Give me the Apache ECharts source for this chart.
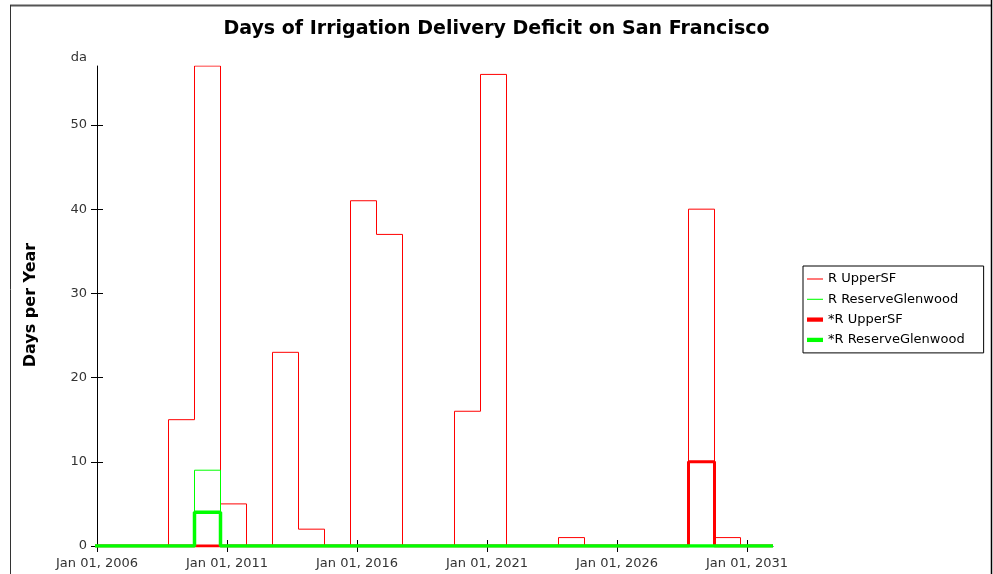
<!DOCTYPE html>
<html>
<head>
<meta charset="utf-8">
<script src="https://cdn.jsdelivr.net/npm/echarts@6/dist/echarts.min.js"></script>
<style>
  html, body { margin: 0; padding: 0; background: #fff; }
  #main { width: 993px; height: 574px; }
</style>
</head>
<body>
<div id="main"></div>
<script>
// water years (Oct 1 of previous year -> Sep 30)
var waterYears = [2006, 2007, 2008, 2009, 2010, 2011, 2012, 2013, 2014, 2015, 2016, 2017, 2018,
  2019, 2020, 2021, 2022, 2023, 2024, 2025, 2026, 2027, 2028, 2029, 2030, 2031];
var upperSF = [0, 0, 0, 15, 57, 5, 0, 23, 2, 0, 41, 37, 0, 0, 16, 56, 0, 0, 1, 0, 0, 0, 0, 40, 1, 0];
var reserveGlenwood = [0, 0, 0, 0, 9, 0, 0, 0, 0, 0, 0, 0, 0, 0, 0, 0, 0, 0, 0, 0, 0, 0, 0, 0, 0, 0];
var starUpperSF = [0, 0, 0, 0, 0, 0, 0, 0, 0, 0, 0, 0, 0, 0, 0, 0, 0, 0, 0, 0, 0, 0, 0, 10, 0, 0];
var starReserveGlenwood = [0, 0, 0, 0, 4, 0, 0, 0, 0, 0, 0, 0, 0, 0, 0, 0, 0, 0, 0, 0, 0, 0, 0, 0, 0, 0];
var seriesNames = ['R UpperSF', 'R ReserveGlenwood', '*R UpperSF', '*R ReserveGlenwood'];
var tickYears = [2006, 2011, 2016, 2021, 2026, 2031];
var yTicks = [0, 10, 20, 30, 40, 50];

var xMin = 2006, xMax = 2032;

// each value is held from Oct 1 of the year before to the next Oct 1
function toSteps(vals) {
  var out = waterYears.map(function (wy, i) { return [wy - 0.25, vals[i]]; });
  out.push([xMax, 0]);
  return out;
}

var myChart = echarts.init(document.getElementById('main'));
var font = 'DejaVu Sans';

function line(name, vals, color, width) {
  return {
    name: name,
    type: 'line',
    step: 'end',
    data: toSteps(vals),
    symbol: 'none',
    color: color,
    lineStyle: { color: color, width: width },
    animation: false
  };
}

var thinIcon = 'path://M0,0L15,0L15,1L0,1Z';
var thickIcon = 'path://M0,0L15,0L15,4L0,4Z';

myChart.setOption({
  animation: false,
  title: {
    text: 'Days of Irrigation Delivery Deficit on San Francisco',
    left: 'center',
    top: 15,
    textStyle: { fontFamily: font, fontSize: 19, fontWeight: 'bold', color: '#000' }
  },
  legend: {
    orient: 'vertical',
    left: 803,
    top: 266,
    padding: [6, 19, 6, 4],
    itemGap: 6.3,
    itemWidth: 16,
    itemHeight: 10,
    borderColor: '#000',
    borderWidth: 1,
    data: [
      { name: seriesNames[0], icon: thinIcon },
      { name: seriesNames[1], icon: thinIcon },
      { name: seriesNames[2], icon: thickIcon },
      { name: seriesNames[3], icon: thickIcon }
    ],
    textStyle: { fontFamily: font, fontSize: 13, lineHeight: 14, color: '#000' }
  },
  graphic: [
    { type: 'line', shape: { x1: 10, y1: 5.5, x2: 992, y2: 5.5 }, style: { stroke: '#555', lineWidth: 2 } },
    { type: 'line', shape: { x1: 10.5, y1: 5, x2: 10.5, y2: 574 }, style: { stroke: '#333', lineWidth: 1 } },
    { type: 'line', shape: { x1: 991.5, y1: 0, x2: 991.5, y2: 574 }, style: { stroke: '#000', lineWidth: 1.5 } },
    {
      type: 'text', x: 31, y: 305, rotation: Math.PI / 2,
      style: {
        text: 'Days per Year', font: 'bold 16px DejaVu Sans', fill: '#000',
        align: 'center', verticalAlign: 'middle'
      }
    }
  ],
  grid: { left: 97, right: 220, top: 66, bottom: 28 },
  // axis 0 carries the data, ticks and labels; it is shifted by 6px so its
  // ticks of length 12 cross the axis line drawn by axis 1
  xAxis: [{
    type: 'value',
    min: xMin,
    max: xMax,
    interval: 5,
    offset: -6,
    axisLine: { show: false },
    axisTick: { length: 12, lineStyle: { color: '#000' }, customValues: tickYears },
    axisLabel: {
      margin: 17,
      fontFamily: font, fontSize: 13, color: '#333',
      customValues: tickYears,
      formatter: function (v) { return 'Jan 01, ' + v; }
    },
    splitLine: { show: false }
  }, {
    type: 'value',
    min: xMin,
    max: xMax,
    position: 'bottom',
    axisLine: { show: true, lineStyle: { color: '#000' } },
    axisTick: { show: false },
    axisLabel: { show: false },
    splitLine: { show: false }
  }],
  yAxis: [{
    type: 'value',
    min: 0,
    max: 57,
    interval: 10,
    offset: 6,
    name: 'da',
    nameGap: 2,
    nameTextStyle: { fontFamily: font, fontSize: 13, color: '#333', align: 'right', padding: [0, 4, 0, 0] },
    axisLine: { show: false },
    axisTick: { show: true, inside: true, length: 12, lineStyle: { color: '#000' }, customValues: yTicks },
    axisLabel: { margin: 4, fontFamily: font, fontSize: 13, color: '#333', customValues: yTicks },
    splitLine: { show: false }
  }, {
    type: 'value',
    min: 0,
    max: 57,
    interval: 10,
    position: 'left',
    axisLine: { show: true, lineStyle: { color: '#000' } },
    axisTick: { show: false },
    axisLabel: { show: false },
    splitLine: { show: false }
  }],
  series: [
    line(seriesNames[0], upperSF, '#ff0000', 1),
    line(seriesNames[1], reserveGlenwood, '#00ff00', 1),
    line(seriesNames[2], starUpperSF, '#ff0000', 3),
    line(seriesNames[3], starReserveGlenwood, '#00ff00', 3.5)
  ]
});
</script>
</body>
</html>
